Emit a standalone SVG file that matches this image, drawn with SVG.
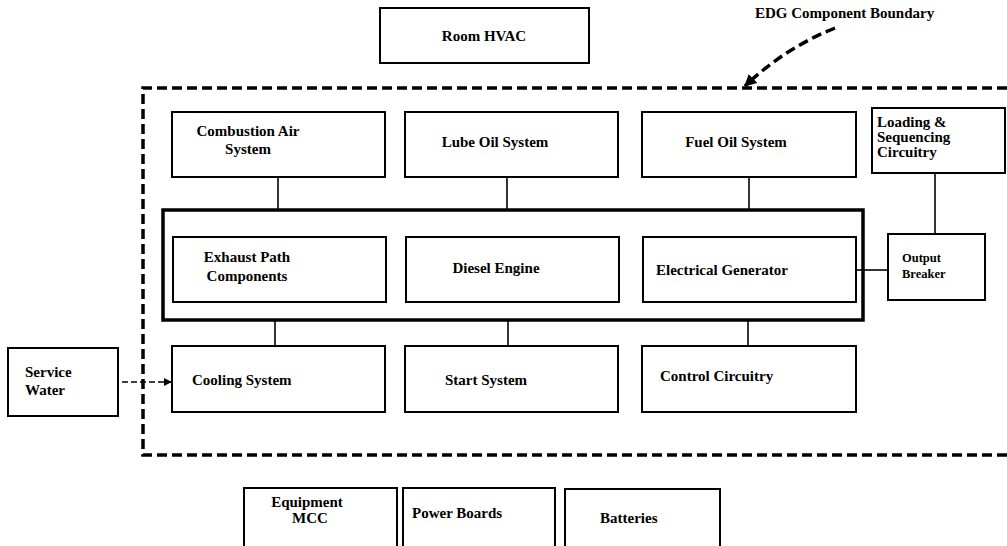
<svg xmlns="http://www.w3.org/2000/svg" width="1007" height="546" viewBox="0 0 1007 546">
<defs>
<style>
.box{fill:#fff;stroke:#000;stroke-width:2}
.t{font-family:"Liberation Serif","Times New Roman",serif;font-weight:bold;font-size:15px;fill:#000}
.s{font-size:12.5px}
.ln{stroke:#000;stroke-width:1.6;fill:none}
.dash{stroke:#000;stroke-width:3.5;fill:none;stroke-dasharray:10 5}
</style>
<marker id="ah" viewBox="0 0 10 10" refX="9" refY="5" markerWidth="5" markerHeight="5" orient="auto"><path d="M0 0L10 5L0 10z" fill="#000"/></marker>
<marker id="ah2" viewBox="0 0 10 10" refX="9" refY="5" markerWidth="3.5" markerHeight="3.5" orient="auto"><path d="M0 0L10 5L0 10z" fill="#000"/></marker>
</defs>
<rect width="1007" height="546" fill="#fff"/>
<g id="boundary">
<path class="dash" d="M1007 88H143V455H1007"/>
<text class="t" x="755" y="18" font-size="14">EDG Component Boundary</text>
<path class="dash" d="M835 28Q785 48 745 86" stroke-width="4.5" stroke-dasharray="10 6" marker-end="url(#ah2)"/>
</g>
<g id="engine-frame"><rect x="163" y="210" width="700" height="110" fill="none" stroke="#000" stroke-width="3.5"/></g>
<g id="connectors">
<line class="ln" x1="278" y1="177" x2="278" y2="210"/>
<line class="ln" x1="507" y1="177" x2="507" y2="210"/>
<line class="ln" x1="749" y1="177" x2="749" y2="210"/>
<line class="ln" x1="275" y1="320" x2="275" y2="346"/>
<line class="ln" x1="508" y1="320" x2="508" y2="346"/>
<line class="ln" x1="748" y1="320" x2="748" y2="346"/>
<line class="ln" x1="856" y1="270" x2="888" y2="270"/>
<line class="ln" x1="935" y1="173" x2="935" y2="234"/>
<line class="ln" x1="122" y1="382" x2="171" y2="382" stroke-dasharray="6 3" marker-end="url(#ah)"/>
</g>
<g id="room-hvac"><rect class="box" x="380" y="8" width="209" height="55"/><text class="t" x="484" y="41" text-anchor="middle">Room HVAC</text></g>
<g id="combustion-air"><rect class="box" x="172" y="112" width="213" height="65"/><text class="t" x="248" y="136" text-anchor="middle">Combustion Air</text><text class="t" x="248" y="154" text-anchor="middle">System</text></g>
<g id="lube-oil"><rect class="box" x="405" y="112" width="213" height="65"/><text class="t" x="495" y="147" text-anchor="middle">Lube Oil System</text></g>
<g id="fuel-oil"><rect class="box" x="642" y="112" width="214" height="65"/><text class="t" x="736" y="147" text-anchor="middle">Fuel Oil System</text></g>
<g id="loading"><rect class="box" x="872" y="108" width="133" height="65"/><text class="t" x="877" y="127">Loading &amp;</text><text class="t" x="877" y="142">Sequencing</text><text class="t" x="877" y="157">Circuitry</text></g>
<g id="exhaust"><rect class="box" x="173" y="237" width="213" height="65"/><text class="t" x="247" y="262" text-anchor="middle">Exhaust Path</text><text class="t" x="247" y="281" text-anchor="middle">Components</text></g>
<g id="diesel"><rect class="box" x="406" y="237" width="213" height="65"/><text class="t" x="496" y="273" text-anchor="middle">Diesel Engine</text></g>
<g id="generator"><rect class="box" x="643" y="237" width="213" height="65"/><text class="t" x="656" y="275">Electrical Generator</text></g>
<g id="output-breaker"><rect class="box" x="888" y="234" width="97" height="66"/><text class="t s" x="902" y="262">Output</text><text class="t s" x="902" y="278">Breaker</text></g>
<g id="cooling"><rect class="box" x="172" y="346" width="213" height="66"/><text class="t" x="192" y="385">Cooling System</text></g>
<g id="start"><rect class="box" x="405" y="346" width="213" height="66"/><text class="t" x="445" y="385">Start System</text></g>
<g id="control"><rect class="box" x="642" y="346" width="214" height="66"/><text class="t" x="660" y="381">Control Circuitry</text></g>
<g id="service-water"><rect class="box" x="8" y="348" width="110" height="68"/><text class="t" x="25" y="377">Service</text><text class="t" x="25" y="395">Water</text></g>
<g id="equipment-mcc"><rect class="box" x="244" y="488" width="153" height="60"/><text class="t" x="307" y="507" text-anchor="middle">Equipment</text><text class="t" x="310" y="523" text-anchor="middle">MCC</text></g>
<g id="power-boards"><rect class="box" x="403" y="488" width="152" height="60"/><text class="t" x="412" y="518">Power Boards</text></g>
<g id="batteries"><rect class="box" x="565" y="489" width="155" height="60"/><text class="t" x="600" y="523">Batteries</text></g>
</svg>
